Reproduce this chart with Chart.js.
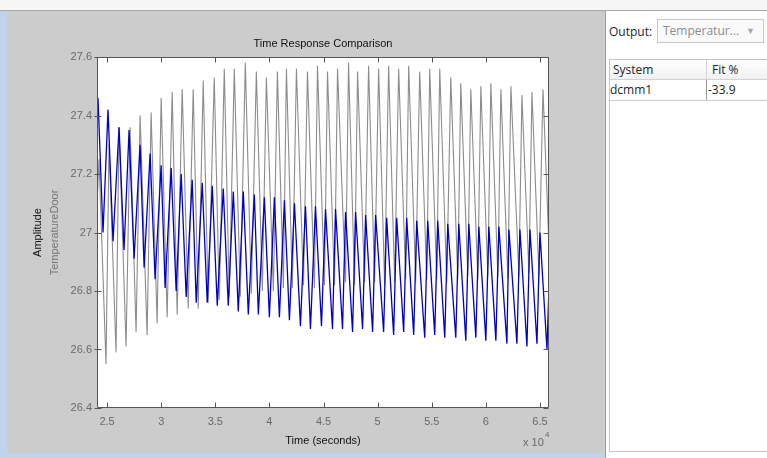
<!DOCTYPE html>
<html>
<head>
<meta charset="utf-8">
<script src="https://cdn.jsdelivr.net/npm/chart.js@4.4.1/dist/chart.umd.min.js"></script>
<style>
  html, body { margin: 0; padding: 0; }
  body { width: 767px; height: 458px; overflow: hidden; position: relative; background: #bfd4ea; font-family: "Liberation Sans", Arial, sans-serif; }
  #strip { position: absolute; left: 0; top: 0; width: 767px; height: 10px; background: #f6f6f6; border-bottom: 1px solid #a9a9a9; }
  #fig { position: absolute; left: 7px; top: 11px; width: 598px; height: 442px; background: #cccccc; }
  #plot { position: absolute; left: 0; top: 0; }
  #side { position: absolute; left: 605px; top: 11px; width: 162px; height: 447px; background: #ffffff; border-left: 1px solid #a0a0a0; font-family: "Open Sans", "Noto Sans", sans-serif; font-size: 12px; color: #1e1e1e; z-index: 2; }
  #side .lbl { position: absolute; left: 3px; top: 13px; line-height: 16px; }
  #side .combo { position: absolute; left: 51px; top: 8px; width: 107px; height: 24px; box-sizing: border-box; border: 1px solid #c8c8c8; background: #fafafa; color: #8c8c8c; line-height: 22px; padding-left: 5px; }
  #side .combo .arrow { position: absolute; right: 8px; top: 0; font-size: 9px; color: #a8a8a8; }
  #side .table { position: absolute; left: 3px; top: 48px; width: 160px; height: 393px; box-sizing: border-box; border: 1px solid #c4c4c4; border-right: none; }
  #side .head { position: absolute; left: 0; top: 0; width: 159px; height: 20px; box-sizing: border-box; border-bottom: 1px solid #d2d2d2; background: linear-gradient(#ffffff, #f1f1f1); }
  #side .row { position: absolute; left: 0; top: 20px; width: 159px; height: 21px; box-sizing: border-box; border-bottom: 1px solid #cdcdcd; }
  #side .c1 { position: absolute; left: 3px; top: 0; line-height: 19px; }
  #side .c2 { position: absolute; left: 96px; top: 0; height: 100%; box-sizing: border-box; border-left: 1px solid #d4d4d4; padding-left: 5px; line-height: 19px; }
  #side .row .c1 { left: 0; }
  #side .row .c2 { padding-left: 1px; border-left-color: #9a9a9a; }
</style>
</head>
<body>
<div id="strip"></div>
<div id="fig"></div>
<canvas id="plot" width="605" height="458"></canvas>
<div id="side">
  <div class="lbl">Output:</div>
  <div class="combo">Temperatur...<span class="arrow">&#9660;</span></div>
  <div class="table">
    <div class="head"><span class="c1">System</span><span class="c2">Fit %</span></div>
    <div class="row"><span class="c1">dcmm1</span><span class="c2">-33.9</span></div>
  </div>
</div>
<script>
// Axis settings (time in seconds, amplitude in degrees)
const xTickValues = [25000, 30000, 35000, 40000, 45000, 50000, 55000, 60000, 65000];
const yTickValues = [26.4, 26.6, 26.8, 27, 27.2, 27.4, 27.6];
const xRange = [24070, 65830];
const yRange = [26.4, 27.6];

const titleText = 'Time Response Comparison';
const xTitle = 'Time (seconds)';
const yTitle = 'Amplitude';
const ySubTitle = 'TemperatureDoor';

// Measured output (gray): turning points of each oscillation
const grayStart = [24070, 27.10];
const grayEnd = [65830, 26.95];
const grayPeakT = [24255, 25181, 26107, 27126, 28051, 29070, 29996, 31014, 31940, 32959, 33885, 34903, 35829, 36755, 37773, 38792, 39718, 40736, 41570, 42496, 43514, 44440, 45366, 46292, 47310, 48143, 49162, 50088, 51014, 51940, 52866, 53884, 54810, 55736, 56754, 57680, 58606, 59532, 60458, 61384, 62310, 63328, 64254, 65273];
const grayPeakV = [27.25, 27.30, 27.36, 27.36, 27.40, 27.41, 27.46, 27.48, 27.49, 27.49, 27.52, 27.53, 27.56, 27.56, 27.58, 27.55, 27.53, 27.55, 27.56, 27.56, 27.55, 27.57, 27.55, 27.56, 27.58, 27.55, 27.57, 27.56, 27.57, 27.56, 27.57, 27.55, 27.56, 27.56, 27.53, 27.51, 27.49, 27.50, 27.51, 27.49, 27.50, 27.47, 27.48, 27.49];
const grayTroughT = [24903, 25829, 26755, 27681, 28699, 29625, 30551, 31477, 32496, 33422, 34348, 35366, 36292, 37310, 38329, 39348, 40366, 41292, 42126, 43144, 44162, 45088, 46014, 47032, 47866, 48792, 49718, 50644, 51570, 52588, 53514, 54532, 55458, 56384, 57403, 58329, 59255, 60181, 61107, 62033, 63051, 63977, 64903];
const grayTroughV = [26.55, 26.59, 26.61, 26.66, 26.65, 26.69, 26.71, 26.72, 26.74, 26.74, 26.76, 26.77, 26.78, 26.78, 26.79, 26.80, 26.80, 26.81, 26.81, 26.82, 26.81, 26.82, 26.82, 26.83, 26.82, 26.83, 26.83, 26.82, 26.83, 26.84, 26.83, 26.84, 26.84, 26.83, 26.84, 26.85, 26.84, 26.85, 26.85, 26.84, 26.85, 26.86, 26.85];

// Model dcmm1 simulated output (blue): turning points of each oscillation
const blueStart = [24070, 27.38];
const blueEnd = [65830, 26.82];
const bluePeakT = [24163, 25089, 26107, 27033, 28051, 28977, 29996, 30922, 31848, 32866, 33792, 34718, 35736, 36662, 37588, 38607, 39533, 40459, 41385, 42311, 43329, 44255, 45181, 46107, 47033, 47959, 48885, 49811, 50829, 51755, 52681, 53607, 54625, 55551, 56477, 57495, 58421, 59347, 60273, 61199, 62125, 63143, 64069, 64995];
const bluePeakV = [27.46, 27.42, 27.36, 27.35, 27.30, 27.27, 27.23, 27.22, 27.20, 27.18, 27.17, 27.16, 27.15, 27.14, 27.14, 27.13, 27.12, 27.12, 27.11, 27.10, 27.09, 27.09, 27.08, 27.08, 27.07, 27.07, 27.06, 27.06, 27.05, 27.05, 27.05, 27.04, 27.04, 27.04, 27.03, 27.03, 27.03, 27.02, 27.02, 27.02, 27.01, 27.01, 27.01, 27.00];
const blueTroughT = [24626, 25552, 26570, 27496, 28422, 29440, 30366, 31385, 32311, 33237, 34255, 35181, 36199, 37125, 38051, 38977, 39996, 40922, 41848, 42866, 43792, 44811, 45829, 46755, 47681, 48607, 49533, 50551, 51477, 52403, 53329, 54348, 55273, 56199, 57218, 58144, 59070, 59996, 60922, 61940, 62866, 63792, 64718, 65644];
const blueTroughV = [27.00, 26.97, 26.94, 26.91, 26.88, 26.84, 26.81, 26.80, 26.78, 26.76, 26.76, 26.75, 26.75, 26.73, 26.72, 26.72, 26.71, 26.71, 26.70, 26.68, 26.67, 26.68, 26.67, 26.67, 26.66, 26.67, 26.66, 26.66, 26.65, 26.66, 26.65, 26.64, 26.65, 26.64, 26.64, 26.63, 26.64, 26.63, 26.63, 26.62, 26.62, 26.61, 26.62, 26.60];

// Join start, peaks, troughs and end into one time-ordered polyline
function buildSeries(start, peakT, peakV, troughT, troughV, end) {
  const pts = [{ x: start[0], y: start[1] }];
  peakT.forEach((t, i) => pts.push({ x: t, y: peakV[i] }));
  troughT.forEach((t, i) => pts.push({ x: t, y: troughV[i] }));
  pts.push({ x: end[0], y: end[1] });
  return pts.sort((a, b) => a.x - b.x);
}

const FONT = '"Liberation Sans", Arial, sans-serif';

// White axes background
const axesBackground = {
  id: 'axesBackground',
  beforeDatasetsDraw(chart) {
    const { ctx, chartArea: a } = chart;
    ctx.save();
    ctx.fillStyle = '#ffffff';
    ctx.fillRect(a.left, a.top, a.right - a.left, a.bottom - a.top);
    ctx.restore();
  }
};

// Axes box with inward tick marks on all four sides
const axesBox = {
  id: 'axesBox',
  afterDatasetsDraw(chart) {
    const { ctx, chartArea: a, scales } = chart;
    const L = a.left + 0.5, R = a.right - 0.5, T = a.top + 0.5, B = a.bottom - 0.5;
    ctx.save();
    ctx.strokeStyle = '#555555';
    ctx.lineWidth = 1;
    ctx.beginPath();
    ctx.rect(L, T, R - L, B - T);
    scales.x.ticks.forEach(t => {
      const px = Math.round(scales.x.getPixelForValue(t.value)) + 0.5;
      ctx.moveTo(px, B); ctx.lineTo(px, B - 5);
      ctx.moveTo(px, T); ctx.lineTo(px, T + 5);
    });
    scales.y.ticks.forEach(t => {
      const py = Math.round(scales.y.getPixelForValue(t.value)) + 0.5;
      ctx.moveTo(L - 3, py); ctx.lineTo(L + 4, py);
      ctx.moveTo(R, py); ctx.lineTo(R - 5, py);
    });
    ctx.stroke();
    ctx.restore();
  }
};

// Title, axis labels and the x10^4 exponent
const figureText = {
  id: 'figureText',
  afterDraw(chart) {
    const { ctx, chartArea: a } = chart;
    const cx = (a.left + a.right) / 2;
    const cy = (a.top + a.bottom) / 2;
    ctx.save();
    ctx.font = '11px ' + FONT;
    ctx.fillStyle = '#111111';
    ctx.textAlign = 'center';
    ctx.textBaseline = 'alphabetic';
    ctx.fillText(titleText, cx, 47);
    ctx.fillText(xTitle, cx, 444);

    ctx.fillStyle = '#6a6a6a';
    ctx.textAlign = 'left';
    ctx.fillText('x 10', 523, 446);
    ctx.font = '8px ' + FONT;
    ctx.fillText('4', 545, 437);

    ctx.font = '11px ' + FONT;
    ctx.textAlign = 'center';
    ctx.save();
    ctx.translate(41, cy);
    ctx.rotate(-Math.PI / 2);
    ctx.fillStyle = '#111111';
    ctx.fillText(yTitle, 0, 0);
    ctx.restore();
    ctx.save();
    ctx.translate(58, cy);
    ctx.rotate(-Math.PI / 2);
    ctx.fillStyle = '#777777';
    ctx.fillText(ySubTitle, 0, 0);
    ctx.restore();
    ctx.restore();
  }
};

new Chart(document.getElementById('plot'), {
  type: 'line',
  data: {
    datasets: [
      {
        label: 'dcmm1',
        data: buildSeries(blueStart, bluePeakT, bluePeakV, blueTroughT, blueTroughV, blueEnd),
        borderColor: '#0000cc',
        borderWidth: 1.3,
        pointRadius: 0,
        tension: 0,
        fill: false
      },
      {
        label: 'Measured',
        data: buildSeries(grayStart, grayPeakT, grayPeakV, grayTroughT, grayTroughV, grayEnd),
        borderColor: '#8c8c8c',
        borderWidth: 1.1,
        pointRadius: 0,
        tension: 0,
        fill: false
      }
    ]
  },
  options: {
    responsive: false,
    animation: false,
    devicePixelRatio: 1,
    parsing: false,
    layout: { padding: { left: 0, top: 57, right: 56, bottom: 0 } },
    plugins: { legend: { display: false }, tooltip: { enabled: false }, title: { display: false } },
    scales: {
      x: {
        type: 'linear',
        min: xRange[0],
        max: xRange[1],
        afterBuildTicks: s => { s.ticks = xTickValues.map(v => ({ value: v })); },
        afterFit: s => { s.height = 50; },
        grid: { display: false, drawTicks: false },
        border: { display: false },
        ticks: {
          autoSkip: false, maxRotation: 0, padding: 7,
          color: '#6a6a6a', font: { family: FONT, size: 11 },
          callback: v => String(v / 10000)
        }
      },
      y: {
        type: 'linear',
        min: yRange[0],
        max: yRange[1],
        afterBuildTicks: s => { s.ticks = yTickValues.map(v => ({ value: v })); },
        afterFit: s => { s.width = 97; },
        grid: { display: false, drawTicks: false },
        border: { display: false },
        ticks: {
          autoSkip: false, padding: 5,
          color: '#6a6a6a', font: { family: FONT, size: 11 },
          callback: v => String(v)
        }
      }
    }
  },
  plugins: [axesBackground, axesBox, figureText]
});
</script>
</body>
</html>
